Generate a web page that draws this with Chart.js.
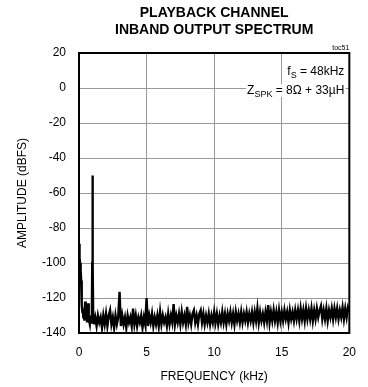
<!DOCTYPE html>
<html><head><meta charset="utf-8">
<script src="https://cdn.jsdelivr.net/npm/chart.js@4.4.0/dist/chart.umd.min.js"></script>
<style>html,body{margin:0;padding:0;background:#fff;}</style>
</head><body>
<canvas id="c" width="368" height="387"></canvas>
<script>
const FONT = '"Liberation Sans", Arial, Helvetica, sans-serif';
const titleLines = ['PLAYBACK CHANNEL', 'INBAND OUTPUT SPECTRUM'];
const figureTag = 'toc51';
const xAxisTitle = 'FREQUENCY (kHz)';
const yAxisTitle = 'AMPLITUDE (dBFS)';
const xTicks = [0, 5, 10, 15, 20];
const yTicks = [-140, -120, -100, -80, -60, -40, -20, 0, 20];

// low-frequency segment (DC skirt and 1 kHz tone), kHz / dBFS
const lowFreqKHz = [0.00,0.02,0.04,0.06,0.08,0.10,0.12,0.14,0.16,0.18,0.20,0.22,0.25,0.28,0.32,0.36,0.40,0.45,0.50,0.55,0.60,0.67,0.72,0.80,0.85,0.90,0.95,0.98,1.00,1.02,1.05];
const lowAmpDB   = [-89,-90,-93,-97,-100,-103,-106,-104,-110,-115,-119,-124,-128,-126,-131,-128,-133,-122,-131,-126,-134,-123,-132,-135,-130,-134,-131,-100,-50,-100,-131];

// spectrum on 0.1 kHz bins from 1.1 kHz to 20.0 kHz
const bandStartKHz = 1.1;
const bandStepKHz = 0.1;
const bandAmpDB = [
 -135,-131,-136,-130,-134,-131,-137,-130,-135,-129,
 -136,-130,-127,-135,-131,-137,-130,-135,-131,-116.5,
 -136,-130,-135,-131,-137,-130,-134,-131,-136,-126,
 -135,-130,-136,-131,-134,-130,-137,-131,-135,-120,
 -136,-130,-134,-129,-136,-131,-135,-130,-136,-128,
 -135,-130,-134,-131,-136,-129,-135,-130,-134,-123.5,
 -135,-130,-134,-129,-135,-128,-134,-130,-135,-125,
 -134,-130,-135,-129,-127,-134,-130,-135,-129,-127,
 -134,-129,-135,-130,-134,-129,-135,-130,-134,-128,
 -134,-129,-135,-130,-134,-128,-134,-129,-135,-129,
 -133,-128,-134,-129,-135,-128,-133,-129,-134,-128,
 -134,-129,-133,-128,-134,-129,-133,-128,-134,-128,
 -133,-126,-134,-128,-133,-129,-134,-128,-133,-124,
 -134,-128,-133,-127,-133,-128,-134,-127,-133,-128,
 -133,-127,-132,-128,-134,-127,-132,-128,-133,-127,
 -132,-127,-133,-126,-132,-127,-133,-126,-132,-127,
 -132,-126,-133,-127,-132,-126,-131,-127,-124.5,-132,
 -127,-132,-126,-133,-127,-131,-126,-132,-126,-131,
 -126,-132,-127,-131,-125.5,-132,-126,-131,-125.5,-128
];

const points = [];
lowFreqKHz.forEach((f, i) => points.push({x: f, y: lowAmpDB[i]}));
bandAmpDB.forEach((v, i) => points.push({x: +(bandStartKHz + i * bandStepKHz).toFixed(2), y: v}));

const annot = {
  id: 'annot',
  afterDatasetsDraw(chart) {
    const {ctx, chartArea: a} = chart;
    ctx.save();
    ctx.strokeStyle = '#000';
    ctx.lineWidth = 2;
    ctx.strokeRect(a.left, a.top, a.right - a.left, a.bottom - a.top);
    ctx.fillStyle = '#000';
    ctx.textAlign = 'center';
    ctx.textBaseline = 'middle';
    ctx.font = 'bold 14px ' + FONT;
    const cx = (a.left + a.right) / 2;
    ctx.fillText(titleLines[0], cx, 13);
    ctx.fillText(titleLines[1], cx, 30);
    ctx.font = '7px ' + FONT;
    ctx.textAlign = 'right';
    ctx.fillText(figureTag, a.right, a.top - 5);
    function drawSub(main, sub, rest, rightX, y) {
      ctx.textBaseline = 'alphabetic';
      ctx.font = '12px ' + FONT;
      const w1 = ctx.measureText(main).width;
      const w3 = ctx.measureText(rest).width;
      ctx.font = '9px ' + FONT;
      const w2 = ctx.measureText(sub).width;
      const x0 = rightX - (w1 + w2 + w3);
      return {x0, w: w1 + w2 + w3, draw() {
        ctx.fillStyle = '#000';
        ctx.textAlign = 'left';
        ctx.font = '12px ' + FONT;
        ctx.fillText(main, x0, y);
        ctx.font = '9px ' + FONT;
        ctx.fillText(sub, x0 + w1, y + 3);
        ctx.font = '12px ' + FONT;
        ctx.fillText(rest, x0 + w1 + w2, y);
      }};
    }
    const t1 = drawSub('f', 'S', ' = 48kHz', a.right - 5, 75);
    t1.draw();
    const t2 = drawSub('Z', 'SPK', ' = 8\u03A9 + 33\u00B5H', a.right - 5, 94);
    ctx.fillStyle = '#fff';
    ctx.fillRect(t2.x0 - 1, 84, t2.w + 2, 13);
    t2.draw();
    ctx.restore();
  }
};

new Chart(document.getElementById('c'), {
  type: 'line',
  data: { datasets: [{
    data: points,
    borderColor: '#000',
    borderWidth: 2.4,
    pointRadius: 0,
    tension: 0,
    fill: false
  }]},
  options: {
    responsive: false,
    animation: false,
    devicePixelRatio: 1,
    layout: { padding: { left: 0, right: 11, top: 53, bottom: 0 } },
    plugins: { legend: { display: false }, tooltip: { enabled: false }, title: { display: false } },
    scales: {
      x: {
        type: 'linear', min: 0, max: 20,
        afterFit(s) { s.height = 54; },
        afterBuildTicks(s) { s.ticks = xTicks.map(v => ({value: v})); },
        ticks: { padding: 12, color: '#000', font: { family: FONT, size: 12 }, maxRotation: 0 },
        grid: { color: '#999', lineWidth: 1, drawTicks: false },
        border: { display: false },
        title: { display: true, text: xAxisTitle, color: '#000', font: { family: FONT, size: 12 }, padding: { top: 0, bottom: 3 } }
      },
      y: {
        type: 'linear', min: -140, max: 20,
        afterFit(s) { s.width = 79; },
        afterBuildTicks(s) { s.ticks = yTicks.map(v => ({value: v})); },
        ticks: { padding: 13, color: '#000', font: { family: FONT, size: 12 } },
        grid: { color: '#999', lineWidth: 1, drawTicks: false },
        border: { display: false },
        title: { display: true, text: yAxisTitle, color: '#000', font: { family: FONT, size: 12 }, padding: { top: 15, bottom: 0 } }
      }
    }
  },
  plugins: [annot]
});
</script>
</body></html>
